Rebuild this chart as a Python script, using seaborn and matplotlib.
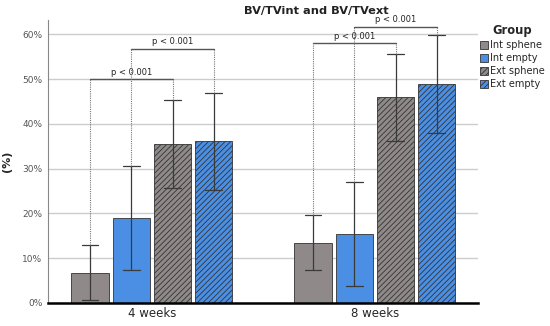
import matplotlib
matplotlib.use("Agg")
import matplotlib.pyplot as plt
import seaborn as sns
import pandas as pd
from matplotlib.patches import Patch
from matplotlib.ticker import PercentFormatter

# ---- data ----
timepoints = ["4 weeks", "8 weeks"]
groups = ["Int sphene", "Int empty", "Ext sphene", "Ext empty"]
mean_4w = [6.7, 19.0, 35.5, 36.2]
low_4w = [0.7, 7.4, 25.7, 25.3]
high_4w = [12.9, 30.6, 45.3, 46.9]
mean_8w = [13.5, 15.4, 45.9, 48.8]
low_8w = [7.4, 3.7, 36.2, 38.0]
high_8w = [19.6, 27.0, 55.7, 59.8]
# significance brackets: (timepoint, group a, group b, height, label)
bracket_time = ["4 weeks", "4 weeks", "8 weeks", "8 weeks"]
bracket_a = ["Int sphene", "Int empty", "Int sphene", "Int empty"]
bracket_b = ["Ext sphene", "Ext empty", "Ext sphene", "Ext empty"]
bracket_y = [50.0, 56.8, 58.0, 61.7]
bracket_label = ["p < 0.001"] * 4
yticks = [0, 10, 20, 30, 40, 50, 60]

colors = ["#8f8a89", "#4a8fe3", "#8f8a89", "#4a8fe3"]
hatches = ["", "", "//////", "//////"]

rows = []
for tp, means, lows, highs in [("4 weeks", mean_4w, low_4w, high_4w),
                               ("8 weeks", mean_8w, low_8w, high_8w)]:
    for g, m, lo, hi in zip(groups, means, lows, highs):
        for v in (lo, m, hi):
            rows.append({"time": tp, "Group": g, "value": v})
df = pd.DataFrame(rows)

sns.set_theme(style="white")
plt.rcParams["font.family"] = ["DejaVu Sans"]
plt.rcParams["hatch.linewidth"] = 0.6

fig = plt.figure(figsize=(5.5, 3.26), dpi=100)
ax = fig.add_axes([0.0873, 0.0706, 0.869 - 0.0873, 0.9387 - 0.0706])

sns.barplot(data=df, x="time", y="value", hue="Group", order=timepoints,
            hue_order=groups, palette=colors, estimator="median",
            errorbar=("pi", 100), capsize=0.3, width=0.74, gap=0.1,
            err_kws={"color": "#3a3a3a", "linewidth": 0.9},
            edgecolor="#333333", linewidth=0.6, saturation=1,
            legend=False, ax=ax)

for cont, h in zip(ax.containers, hatches):
    for bar in cont:
        bar.set_hatch(h)

# bar centres per (time, group)
centers = {}
for gi, cont in enumerate(ax.containers):
    for ti, bar in enumerate(cont):
        centers[(timepoints[ti], groups[gi])] = bar.get_x() + bar.get_width() / 2
highs = {}
for tp, hs in [("4 weeks", high_4w), ("8 weeks", high_8w)]:
    for g, h in zip(groups, hs):
        highs[(tp, g)] = h

for tp, a, b, y, lab in zip(bracket_time, bracket_a, bracket_b, bracket_y, bracket_label):
    xa, xb = centers[(tp, a)], centers[(tp, b)]
    ax.plot([xa, xb], [y, y], color="#555555", lw=1.0, zorder=4)
    ax.plot([xa, xa], [highs[(tp, a)], y], color="#777777", lw=0.8, ls=(0, (1, 1)), zorder=4)
    ax.plot([xb, xb], [highs[(tp, b)], y], color="#777777", lw=0.8, ls=(0, (1, 1)), zorder=4)
    ax.text((xa + xb) / 2, y + 0.5, lab, ha="center", va="bottom", fontsize=6, color="#222222")

ax.set_xlim(-0.466, 1.462)
ax.set_ylim(0, 63.2)
ax.set_yticks(yticks)
ax.yaxis.set_major_formatter(PercentFormatter(xmax=100, decimals=0))
ax.grid(axis="y", color="#cccccc", lw=1.0)
ax.set_axisbelow(True)
ax.tick_params(axis="y", labelsize=6.5, labelcolor="#555555", length=3, color="#888888", pad=1)
ax.tick_params(axis="x", labelsize=8.5, length=0, pad=3)
ax.set_xlabel("")
ax.set_ylabel("(%)", fontsize=8, fontweight="bold")
ax.yaxis.set_label_coords(-0.084, 0.5)
for s in ["top", "right"]:
    ax.spines[s].set_visible(False)
ax.spines["left"].set_color("#888888")
ax.spines["left"].set_linewidth(0.8)
ax.spines["bottom"].set_color("black")
ax.spines["bottom"].set_linewidth(1.8)

fig.text(0.576, 0.966, "BV/TVint and BV/TVext", ha="center", va="center",
         fontsize=8.2, fontweight="bold", color="#222222")

handles = [Patch(facecolor=c, edgecolor="#333333", hatch=h, linewidth=0.6)
           for c, h in zip(colors, hatches)]
leg = fig.legend(handles, groups, title="Group", loc="upper left",
                 bbox_to_anchor=(0.872, 0.925), frameon=False, fontsize=7,
                 title_fontproperties={"weight": "bold", "size": 8.3},
                 handlelength=0.85, handleheight=0.9, handletextpad=0.25,
                 labelspacing=0.3, borderaxespad=0, borderpad=0)

fig.savefig("out.png", dpi=100)
